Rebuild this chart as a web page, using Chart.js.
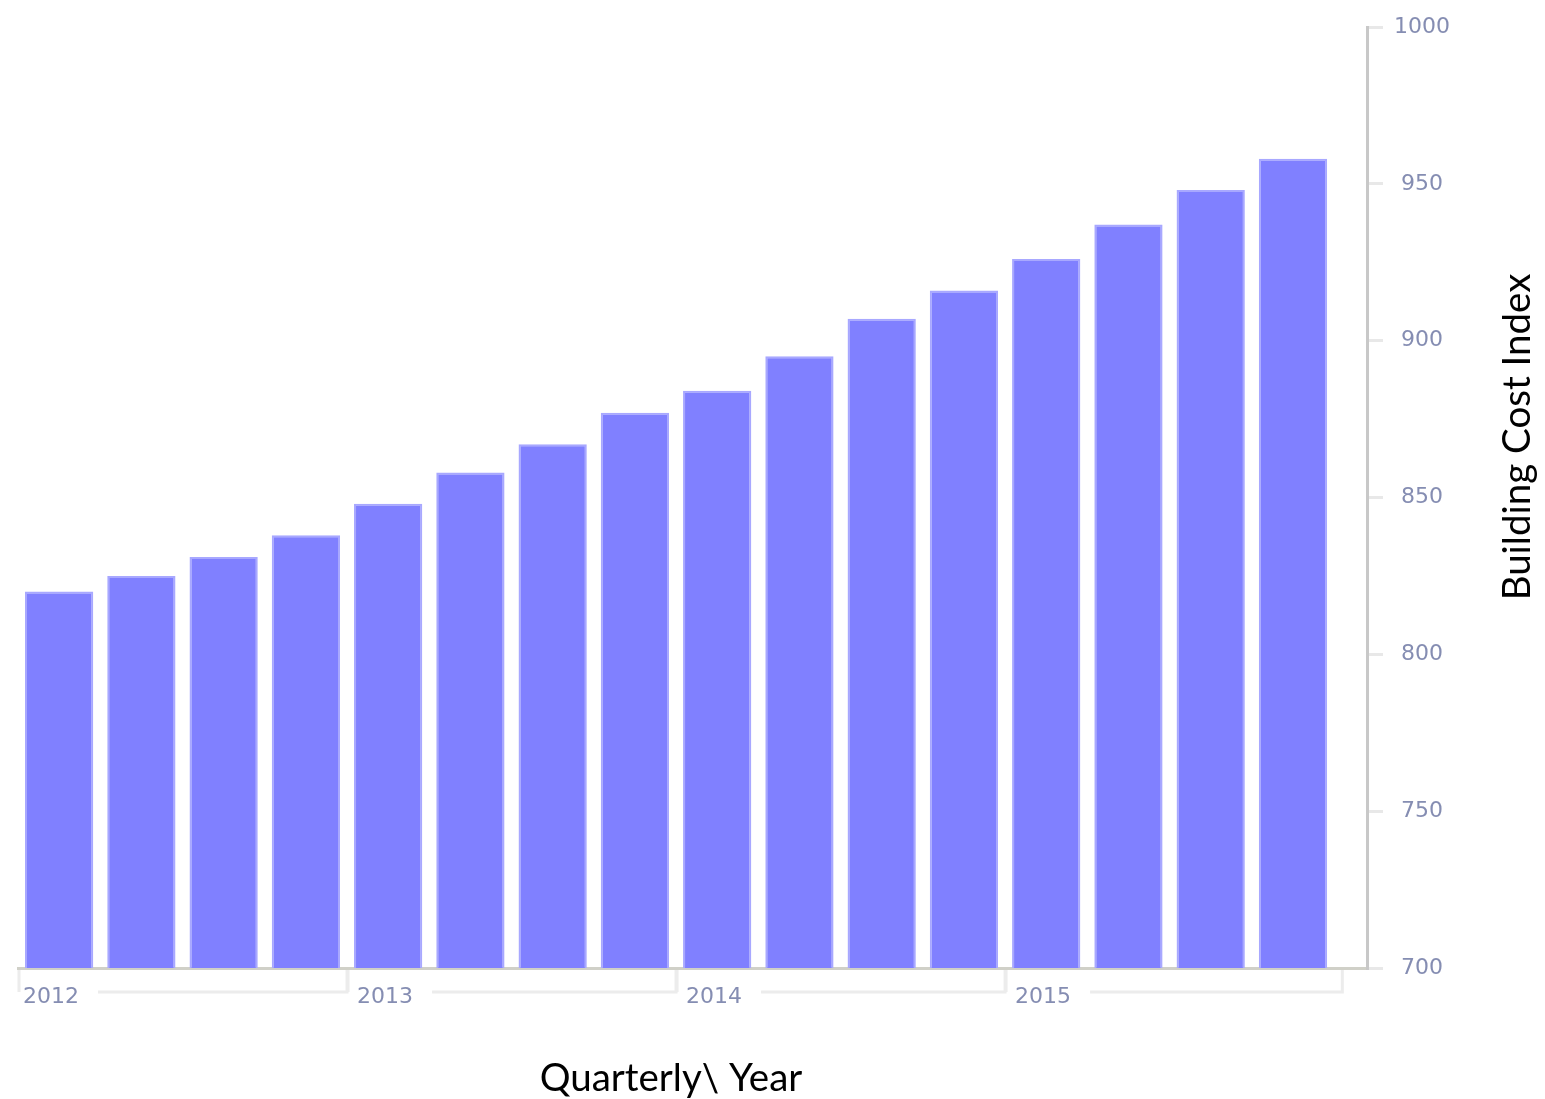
<!DOCTYPE html>
<html>
<head>
<meta charset="utf-8">
<title>Building Cost Index</title>
<script src="https://cdn.jsdelivr.net/npm/chart.js@4.4.1/dist/chart.umd.min.js"></script>
<style>
  html, body { margin: 0; padding: 0; background: #fff; }
  #chartWrap { position: relative; width: 1545px; height: 1099px; }
</style>
</head>
<body>
<div id="chartWrap"><canvas id="chart1"></canvas></div>
<script>
const years = ['2012', '2013', '2014', '2015'];
const quarters = ['Q1', 'Q2', 'Q3', 'Q4'];
const costIndex = [820, 825, 831, 838, 848, 858, 867, 877, 884, 895, 907, 916, 926, 937, 948, 958];
const yTicks = [700, 750, 800, 850, 900, 950, 1000];
const yTitle = 'Building Cost Index';
const xTitle = 'Quarterly\\ Year';

const barColor = '#8080ff';
const tickColor = '#858db2';
const tickFont = { family: 'DejaVu Sans', size: 22 };

// one label per bar, e.g. "2012 Q1"
let periodLabels = [];
for (const y of years) {
  for (const q of quarters) {
    periodLabels.push(y + ' ' + q);
  }
}
const points = costIndex.map((v, i) => ({ x: i, y: v }));

// year groups with bracket lines under the x axis
const yearBrackets = {
  id: 'yearBrackets',
  afterDraw(chart) {
    const ctx = chart.ctx;
    const xs = chart.scales.x;
    const bottom = chart.chartArea.bottom;
    const lineY = 992;
    ctx.save();
    ctx.font = tickFont.size + 'px ' + tickFont.family;
    ctx.textBaseline = 'middle';
    ctx.textAlign = 'left';
    ctx.strokeStyle = '#ececec';
    ctx.lineWidth = 3;
    for (let i = 0; i < years.length; i++) {
      const x0 = xs.getPixelForValue(i * quarters.length - 0.5);
      const x1 = (i === years.length - 1)
        ? xs.getPixelForValue(costIndex.length - 0.4)
        : xs.getPixelForValue((i + 1) * quarters.length - 0.5);
      const labelX = x0 + (i === 0 ? 5 : 10);
      const w = ctx.measureText(years[i]).width;
      ctx.beginPath();
      ctx.moveTo(x0 + 1, bottom + 2);
      ctx.lineTo(x0 + 1, lineY);
      ctx.moveTo(x1, bottom + 2);
      ctx.lineTo(x1, lineY);
      ctx.lineTo(labelX + w + 19, lineY);
      ctx.stroke();
      ctx.fillStyle = tickColor;
      ctx.fillText(years[i], labelX, 997);
    }
    ctx.restore();
  }
};

// axis titles in the same spots as the original slide
const axisTitles = {
  id: 'axisTitles',
  afterDraw(chart) {
    const ctx = chart.ctx;
    ctx.save();
    ctx.fillStyle = '#000';
    ctx.font = '38.5px Lato';
    ctx.textAlign = 'center';
    ctx.textBaseline = 'middle';
    ctx.fillText(xTitle, 671, 1079);
    ctx.translate(1518, 437);
    ctx.rotate(-Math.PI / 2);
    ctx.fillText(yTitle, 0, 0);
    ctx.restore();
  }
};

const ctx = document.getElementById('chart1');
const myChart = new Chart(ctx, {
  type: 'bar',
  data: {
    labels: periodLabels,
    datasets: [{
      label: yTitle,
      data: points,
      backgroundColor: barColor,
      borderColor: '#a8a8ff',
      borderWidth: 2,
      borderSkipped: 'bottom',
      barPercentage: 0.83,
      categoryPercentage: 1.0
    }]
  },
  options: {
    responsive: true,
    maintainAspectRatio: false,
    animation: false,
    layout: { padding: { left: 18, top: 27, right: 0, bottom: 0 } },
    plugins: {
      legend: { display: false },
      title: { display: false },
      tooltip: {
        callbacks: {
          title: (items) => periodLabels[items[0].parsed.x]
        }
      }
    },
    scales: {
      x: {
        type: 'linear',
        offset: false,
        min: -0.5,
        max: 15.9,
        grid: { display: false },
        ticks: { display: false },
        border: { display: true, color: '#d0d0c8', width: 3 },
        afterFit: (scale) => { scale.height = 131; }
      },
      y: {
        position: 'right',
        min: 700,
        max: 1000,
        afterBuildTicks: (scale) => { scale.ticks = yTicks.map(v => ({ value: v })); },
        grid: {
          display: true,
          drawOnChartArea: false,
          drawTicks: true,
          tickLength: 16,
          color: '#e8e8e8',
          lineWidth: 3
        },
        border: { display: true, color: '#c8c8c8', width: 3 },
        ticks: {
          color: tickColor,
          font: tickFont,
          padding: 11,
          crossAlign: 'center',
          callback: (value) => String(value)
        },
        afterFit: (scale) => { scale.width = 178; }
      }
    }
  },
  plugins: [yearBrackets, axisTitles]
});
</script>
</body>
</html>
